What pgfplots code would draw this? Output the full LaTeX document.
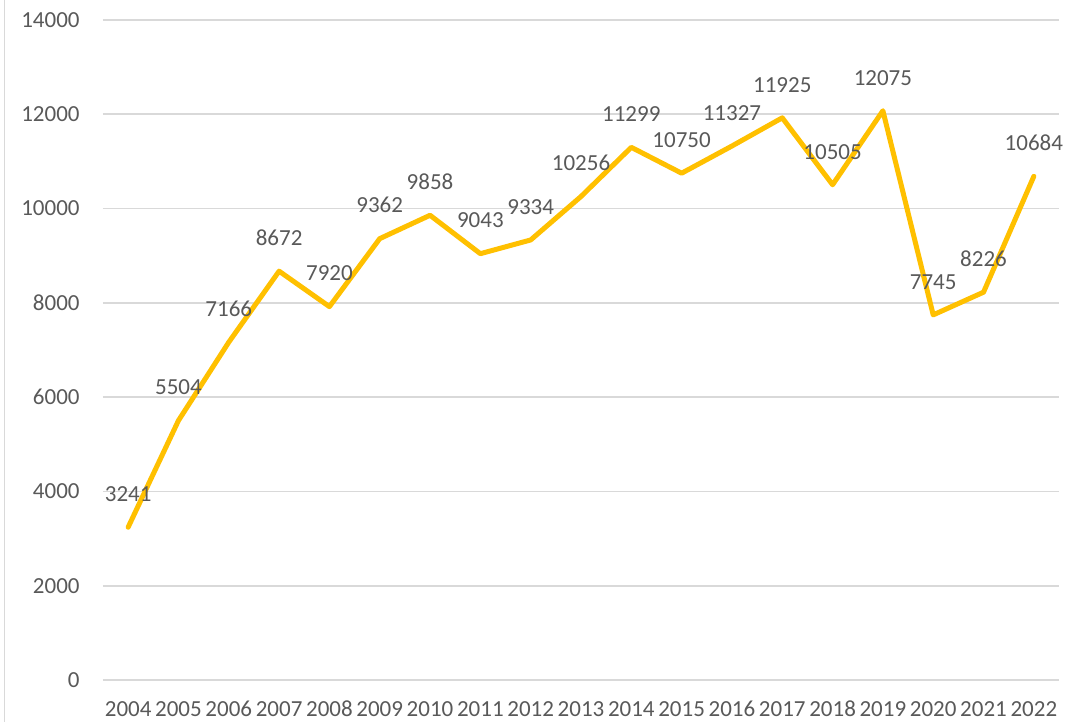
\documentclass[border=0pt]{standalone}
\usepackage{pgfplots}
\pgfplotsset{compat=1.18}
\usepackage{fontspec}
\setmainfont{Carlito}
\definecolor{gold}{HTML}{FFC000}
\definecolor{txt}{HTML}{595959}
\definecolor{gridc}{HTML}{D9D9D9}

\begin{document}
\begin{tikzpicture}
\path[use as bounding box] (-51.5pt,-21pt) rectangle (483.5pt,340pt);
% chart area border on the left
\draw[gridc, line width=0.8pt] (-49.2pt,-21pt) -- (-49.2pt,340pt);
\begin{axis}[
  scale only axis,
  width=478pt, height=330pt,
  xmin=2003.5, xmax=2022.5,
  ymin=0, ymax=14000,
  xtick=data,
  ytick={0,2000,...,14000},
  scaled ticks=false,
  /pgf/number format/1000 sep={},
  /pgf/number format/assume math mode=true,
  axis line style={draw=none},
  major tick length=0pt,
  ymajorgrids,
  grid style={gridc, line width=0.8pt},
  tick label style={font=\fontsize{11.5}{13}\selectfont, text=txt, inner sep=0pt,
    text height=7.3pt, text depth=0pt},
  xticklabel style={anchor=north, yshift=-10.5pt},
  yticklabel style={anchor=east, xshift=-11.5pt},
  nodes near coords,
  every node near coord/.style={font=\fontsize{11.5}{13}\selectfont, text=txt,
    inner sep=0pt, text height=7.3pt, text depth=0pt, anchor=center, yshift=16.5pt},
  clip=false,
]
\addplot[gold, line width=2.5pt, line join=round, line cap=round, mark=none] coordinates {
  (2004,3241) (2005,5504) (2006,7166) (2007,8672) (2008,7920)
  (2009,9362) (2010,9858) (2011,9043) (2012,9334) (2013,10256)
  (2014,11299) (2015,10750) (2016,11327) (2017,11925) (2018,10505)
  (2019,12075) (2020,7745) (2021,8226) (2022,10684)
};
\end{axis}
\end{tikzpicture}
\end{document}
